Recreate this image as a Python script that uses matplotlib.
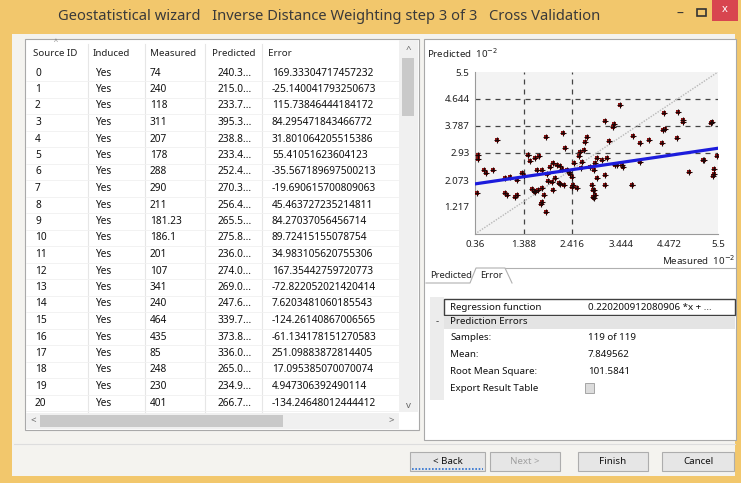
import numpy as np
import matplotlib
matplotlib.use("Agg")
import matplotlib.pyplot as plt
from matplotlib.patches import Rectangle

plt.rcParams['font.family'] = ['Noto Sans', 'DejaVu Sans']

# ---- dados da tabela ----
source_id = [str(i) for i in range(21)]
induced = ["Yes"] * 21
measured = ["74", "240", "118", "311", "207", "178", "288", "290", "211", "181.23",
            "186.1", "201", "107", "341", "240", "464", "435", "85", "248", "230", "401"]
predicted = ["240.3...", "215.0...", "233.7...", "395.3...", "238.8...", "233.4...",
             "252.4...", "270.3...", "256.4...", "265.5...", "275.8...", "236.0...",
             "274.0...", "269.0...", "247.6...", "339.7...", "373.8...", "336.0...",
             "265.0...", "234.9...", "266.7..."]
error = ["169.33304717457232", "-25.140041793250673", "115.73846444184172",
         "84.295471843466772", "31.801064205515386", "55.41051623604123",
         "-35.567189697500213", "-19.690615700809063", "45.463727235214811",
         "84.27037056456714", "89.72415155078754", "34.983105620755306",
         "167.35442759720773", "-72.822052021420414", "7.6203481060185543",
         "-124.26140867006565", "-61.134178151270583", "251.09883872814405",
         "17.095385070070074", "4.947306392490114", "-134.24648012444412"]
headers = ["Source ID", "Induced", "Measured", "Predicted", "Error"]

# ---- pontos do gráfico (10^-2) ----
meas_pts = [0.43, 0.43, 0.83, 0.54, 0.41, 0.99, 1.10, 1.24, 1.03, 1.24, 1.35, 1.49, 1.53,
            1.63, 1.72, 1.86, 1.67, 1.77, 1.88, 1.56, 1.63, 1.70, 1.77, 1.81, 1.77, 1.86,
            1.98, 2.05, 2.13, 2.16, 1.95, 2.02, 2.09, 2.16, 2.20, 2.23, 2.27, 2.30, 2.34,
            2.37, 2.41, 2.44, 2.51, 2.41, 2.55, 2.58, 2.62, 2.66, 2.73, 2.69, 2.83, 2.87,
            2.90, 2.88, 2.80, 2.87, 2.90, 2.94, 3.04, 3.10, 3.15, 3.29, 3.33, 3.47, 3.11,
            3.43, 3.71, 3.86, 4.05, 4.31, 4.35, 4.63, 4.77, 4.65, 4.37, 3.68, 3.86, 4.88,
            5.20, 5.35, 5.41, 5.41, 5.48, 0.74, 1.00, 1.21, 1.48, 1.60, 1.75, 2.00, 2.25,
            2.60, 2.95, 3.20, 1.40, 1.90, 2.45, 0.60, 3.28, 3.50, 4.34, 4.77, 5.38, 3.11,
            3.37, 3.69, 5.19, 5.39, 2.86, 2.86]
pred_pts = [2.87, 2.73, 3.34, 2.39, 1.65, 2.13, 2.18, 2.07, 1.60, 1.60, 2.29, 2.87, 2.69,
            2.76, 2.84, 3.45, 2.39, 2.39, 2.26, 1.78, 1.70, 1.76, 1.81, 1.60, 1.39, 1.07,
            2.02, 2.13, 1.99, 1.95, 2.50, 2.60, 2.55, 2.52, 2.41, 3.56, 3.08, 2.39, 2.34,
            2.26, 2.16, 1.92, 1.81, 1.86, 2.82, 2.97, 2.66, 3.03, 3.45, 3.29, 1.92, 1.76,
            1.60, 1.49, 2.50, 2.39, 2.60, 2.76, 2.71, 3.96, 2.76, 3.85, 2.55, 2.55, 1.92,
            4.46, 3.47, 3.24, 3.34, 3.24, 4.19, 3.40, 3.98, 4.24, 3.68, 1.92, 2.66, 2.34,
            2.71, 3.87, 2.26, 2.41, 2.82, 2.39, 1.66, 1.53, 2.87, 1.72, 1.30, 1.75, 1.90,
            2.45, 2.15, 3.30, 2.20, 2.05, 2.60, 2.30, 3.76, 2.49, 3.66, 3.92, 3.92, 2.23,
            2.55, 1.92, 2.71, 2.20, 1.76, 1.53]
reg_slope = 0.220200912080906
reg_intercept = 1.87
xticks = [0.36, 1.388, 2.416, 3.444, 4.472, 5.5]
xtick_labels = ["0.36", "1.388", "2.416", "3.444", "4.472", "5.5"]
yticks = [1.217, 2.073, 2.93, 3.787, 4.644, 5.5]
ytick_labels = ["1.217", "2.073", "2.93", "3.787", "4.644", "5.5"]

props = [("Samples:", "119 of 119"), ("Mean:", "7.849562"),
         ("Root Mean Square:", "101.5841"), ("Export Result Table", "")]
regression_text = "0.220200912080906 *x + ..."

W, H = 741, 483
fig = plt.figure(figsize=(W / 100, H / 100), dpi=100)
bg = fig.add_axes([0, 0, 1, 1])
bg.set_xlim(0, W)
bg.set_ylim(H, 0)
bg.axis("off")

def box(x, y, w, h, fc, ec="none", lw=1, **kw):
    bg.add_patch(Rectangle((x, y), w, h, facecolor=fc, edgecolor=ec, linewidth=lw, **kw))

# moldura da janela
box(0, 0, W, H, "#f2c76c")
box(12, 34, W - 18, H - 41, "#f4f3ef")
bg.text(58, 17, "Geostatistical wizard   Inverse Distance Weighting step 3 of 3   Cross Validation",
        fontsize=10.6, color="#3a3a3a", va="center")
bg.text(680, 14, "\u2013", fontsize=10, color="#333", va="center", ha="center")
box(697, 9, 9, 7, "none", "#333", lw=1.2)
box(712, 0, 26, 21, "#d8454f")
bg.text(725, 10, "x", fontsize=8, color="white", va="center", ha="center", fontweight="bold")

# painel da tabela
box(25, 39, 394, 391, "white", "#a9a9a9", lw=0.8)
col_x = [33, 93, 150, 212, 268]
for cx, hd in zip(col_x, headers):
    bg.text(cx, 53, hd, fontsize=7, color="#222", va="center")
bg.text(56, 43, "^", fontsize=5, color="#777", ha="center", va="center")
for sx in [88, 145, 205, 262]:
    bg.plot([sx, sx], [44, 412], color="#e6e6e6", lw=0.8)
row_y = 73
for i in range(21):
    y = row_y + i * 16.5
    bg.plot([26, 398], [y + 8.2, y + 8.2], color="#f0f0f0", lw=0.6)
    vals = [source_id[i], induced[i], measured[i], predicted[i], error[i]]
    xs = [35, 95, 150, 218, 272]
    for cx, v in zip(xs, vals):
        bg.text(cx, y, v, fontsize=7.3, color="#111", va="center", clip_on=True)
# barra de rolagem vertical
box(399, 40, 19, 372, "#f0f0f0")
bg.text(408, 50, "^", fontsize=7, color="#666", ha="center", va="center")
bg.text(408, 405, "v", fontsize=7, color="#666", ha="center", va="center")
box(402, 58, 12, 58, "#c9c9c9")
# barra de rolagem horizontal
box(26, 413, 373, 16, "#f0f0f0")
bg.text(33, 421, "<", fontsize=7, color="#666", ha="center", va="center")
bg.text(391, 421, ">", fontsize=7, color="#666", ha="center", va="center")
box(40, 415, 243, 12, "#c9c9c9")

# painel direito
box(424, 39, 312, 401, "white", "#a9a9a9", lw=0.8)
bg.text(427, 53, "Predicted  10$^{-2}$", fontsize=7, color="#222", va="center")
bg.text(735, 260, "Measured  10$^{-2}$", fontsize=7, color="#222", va="center", ha="right")

# abas
bg.plot([505, 735], [268, 268], color="#b0b0b0", lw=0.8)
bg.plot([426, 470, 476, 505, 512], [283, 283, 268, 268, 283], color="#b0b0b0", lw=0.8)
bg.text(430, 276, "Predicted", fontsize=6.8, color="#222", va="center")
bg.text(480, 276, "Error", fontsize=6.8, color="#222", va="center")

# grade de propriedades
box(430, 297, 14, 103, "#ececec")
box(444, 299, 291, 16, "white", "#404040", lw=1)
bg.text(450, 307, "Regression function", fontsize=7, color="#111", va="center")
bg.text(588, 307, regression_text, fontsize=7, color="#111", va="center")
box(444, 316, 291, 13, "#e4e4e4")
bg.text(436, 322, "-", fontsize=7, color="#333", va="center")
bg.text(450, 322, "Prediction Errors", fontsize=7, color="#111", va="center", fontweight="bold")
for k, (lab, val) in enumerate(props):
    y = 338 + k * 16.7
    bg.text(450, y, lab, fontsize=7, color="#111", va="center")
    bg.text(588, y, val, fontsize=7, color="#111", va="center")
box(585, 383, 9, 10, "#dcdcdc", "#9a9a9a", lw=0.6)

# botões
bg.plot([14, 735], [444, 444], color="#dddddd", lw=0.8)
buttons = [("< Back", 410, 75, "#111"), ("Next >", 490, 70, "#a0a0a0"),
           ("Finish", 578, 70, "#111"), ("Cancel", 662, 72, "#111")]
for lab, bx, bw, tc in buttons:
    box(bx, 452, bw, 19, "#e6e6e6", "#adadad", lw=0.8)
    bg.text(bx + bw / 2, 461.5, lab, fontsize=7, color=tc, ha="center", va="center")
bg.plot([412, 483], [469, 469], color="#2a6fd0", lw=1.2, ls=(0, (1, 1)))

# gráfico de dispersão
ax = fig.add_axes([475 / W, (H - 234) / H, 243 / W, 162 / H])
ax.set_facecolor("#f3f3f3")
ax.set_xlim(0.36, 5.5)
ax.set_ylim(0.36, 5.5)
for xv in xticks[1:3]:
    ax.axvline(xv, color="#444", lw=0.9, ls=(0, (4, 4)), zorder=1)
for yv in yticks[2:5]:
    ax.axhline(yv, color="#444", lw=0.9, ls=(0, (4, 4)), zorder=1)
ax.plot([0.36, 5.5], [0.36, 5.5], color="#b8b8b8", lw=1, ls=(0, (1, 1)), zorder=2)
ax.scatter(meas_pts, pred_pts, marker="s", s=9, color="#8a1414", lw=0, zorder=3)
ax.scatter(meas_pts, pred_pts, marker="+", s=14, color="#1a0606", lw=0.8, zorder=4)
xl = np.array([0.36, 5.5])
ax.plot(xl, reg_slope * xl + reg_intercept, color="#1c1cdc", lw=2.3, zorder=5)
ax.set_xticks(xticks)
ax.set_xticklabels(xtick_labels, fontsize=7, color="#222")
ax.set_yticks(yticks)
ax.set_yticklabels(ytick_labels, fontsize=7, color="#222")
ax.tick_params(length=0, pad=4)
for s in ["top", "right"]:
    ax.spines[s].set_visible(False)
for s in ["left", "bottom"]:
    ax.spines[s].set_color("#9a9a9a")

fig.savefig("out.png", dpi=100)
